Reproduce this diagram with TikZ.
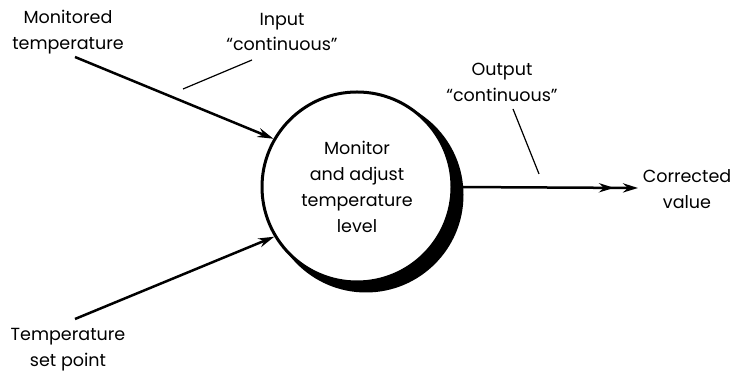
\documentclass[tikz,border=0pt]{standalone}
\usepackage{fontspec}
\setmainfont{Poppins}
\usetikzlibrary{arrows.meta,positioning}
\tikzset{
  lbl/.style={align=center,font=\fontsize{8.8}{13}\selectfont,inner sep=0pt},
  proc/.style={circle,draw,fill=white,line width=1.5bp,minimum size=95bp,
               align=center,font=\fontsize{8.8}{13}\selectfont},
  arr/.style={-{Stealth[length=8bp,width=4.6bp]},line width=1.25bp},
  arrr/.style={-{Stealth[length=7.5bp,width=4.6bp,sep=4.5bp]Stealth[length=7.5bp,width=4.6bp]},line width=1.25bp},
  tick/.style={line width=0.6bp},
}
\begin{document}
\begin{tikzpicture}[x=0.5bp,y=-0.5bp]
  \useasboundingbox (0,0) rectangle (734,375);
  % shadow first, then the process circle
  \fill (366,195) circle (97.5);
  \node[proc] (proc) at (357,187) {Monitor\\and adjust\\temperature\\level};

  \node[lbl] (montemp) at (68,32) {Monitored\\temperature};
  \node[lbl] (setpt) at (68,350) {Temperature\\set point};
  \node[lbl] (corr) at (687,189) {Corrected\\value};
  \node[lbl] (inlbl) at (282,32) {Input\\“continuous”};
  \node[lbl] (outlbl) at (502,82) {Output\\“continuous”};

  \coordinate (mt) at (75,57);
  \coordinate (sp) at (75,319);
  \coordinate (out) at (638,188);
  \coordinate (inA) at (183,89);
  \coordinate (inB) at (252,60);
  \coordinate (outA) at (513,109);
  \coordinate (outB) at (539,174);

  \draw[arr] (mt) -- (proc.150);
  \draw[arr] (sp) -- (proc.211);
  \draw[arrr] (proc.east) -- (out);

  \draw[tick] (inA) -- (inB);
  \draw[tick] (outA) -- (outB);
\end{tikzpicture}
\end{document}
